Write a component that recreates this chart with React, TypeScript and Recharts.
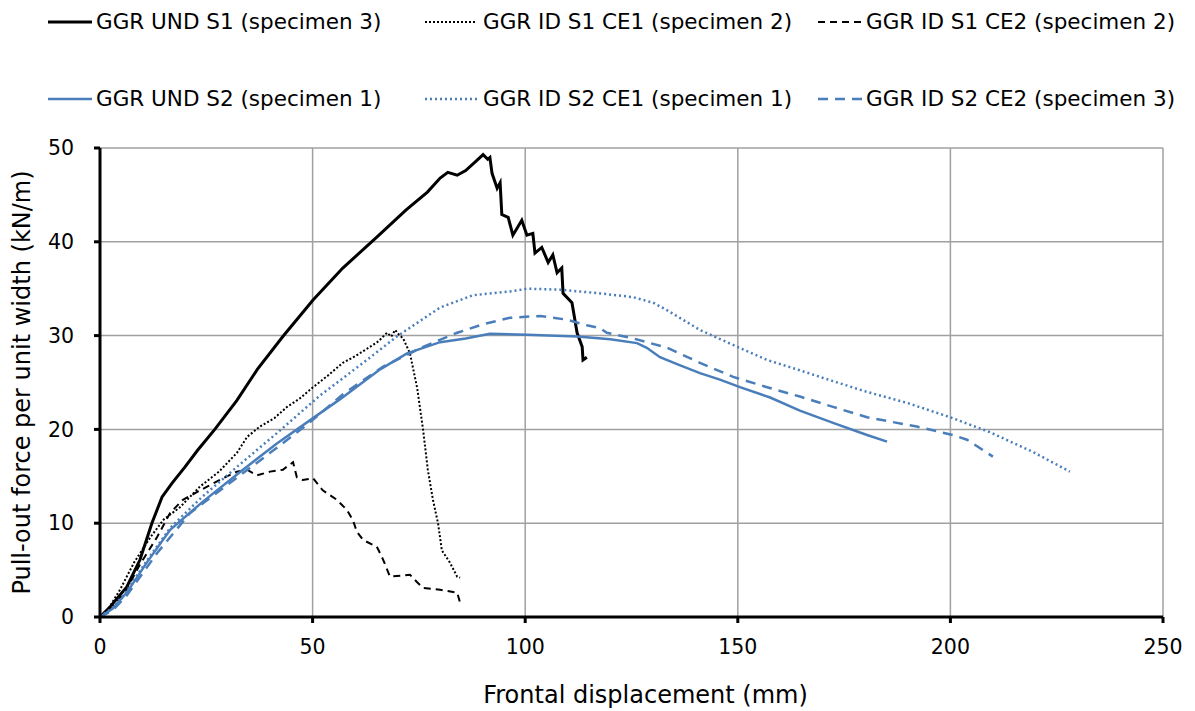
import { LineChart, Line, XAxis, YAxis, CartesianGrid, Label } from "recharts";

const BLUE = "#4a7ebb";
const FONT = "DejaVu Sans";

// GGR UND S1 (specimen 3)
const undS1X = [0, 2.4, 6.3, 9.4, 12.2, 14.6, 17, 20, 23, 27, 32.2, 37, 43, 50.1, 57.1, 65.1, 72, 77, 80, 81.8, 84, 86, 88.7, 90.1, 91.2, 91.7, 92.2, 93.4, 94.1, 94.5, 96, 97.1, 99.2, 100.4, 101.8, 102.3, 103.9, 105.4, 106.5, 107.5, 108.6, 108.9, 111, 112.2, 113.4, 113.6, 114.5];
const undS1Y = [0, 1.1, 3.2, 6.1, 10, 12.8, 14.3, 16.0, 17.8, 20, 23.1, 26.4, 29.9, 33.8, 37.2, 40.5, 43.4, 45.3, 46.8, 47.4, 47.1, 47.6, 48.7, 49.3, 48.8, 49.0, 47.3, 45.7, 46.3, 42.9, 42.6, 40.7, 42.3, 40.7, 40.9, 38.8, 39.4, 37.8, 38.6, 36.7, 37.2, 34.5, 33.5, 30.3, 28.8, 27.4, 27.7];

// GGR ID S1 CE1 (specimen 2)
const idS1Ce1X = [0, 2, 4.7, 8, 12, 15, 18.8, 23.5, 28, 32.2, 34.6, 37.6, 41, 44, 47, 50.1, 53.5, 57.1, 60, 63.5, 65.5, 67.5, 68.5, 69.4, 70.3, 71.3, 72.9, 74.6, 76, 77.1, 78.3, 79.5, 80.4, 82.3, 84, 84.7];
const idS1Ce1Y = [0, 0.9, 2.9, 5.8, 8.6, 10.4, 11.7, 13.9, 15.5, 17.5, 19.2, 20.3, 21.2, 22.4, 23.3, 24.5, 25.7, 27.1, 27.8, 28.8, 29.4, 30.3, 29.9, 30.6, 30.1, 29.7, 28.1, 24.4, 19.9, 15.7, 12.5, 10.0, 7.1, 5.8, 4.3, 4.2];

// GGR ID S1 CE2 (specimen 2)
const idS1Ce2X = [0, 3, 6.3, 9.4, 13.4, 16.5, 19.5, 25.2, 29, 32.2, 34.6, 36.9, 40, 43, 45.4, 46.3, 47.7, 50.1, 52.4, 55.7, 58.1, 59.5, 60.4, 61.9, 65.1, 66.6, 68.2, 72.9, 74.6, 76, 80, 84, 84.7];
const idS1Ce2Y = [0, 1.0, 3.0, 5.6, 8.5, 11.1, 12.5, 13.9, 14.8, 15.5, 15.7, 15.1, 15.5, 15.7, 16.5, 14.9, 14.6, 14.8, 13.5, 12.5, 11.4, 10.3, 9.1, 8.2, 7.5, 6.1, 4.3, 4.5, 3.7, 3.1, 2.9, 2.6, 1.5];

// GGR UND S2 (specimen 1)
const undS2X = [0, 3, 6.3, 11, 16.5, 24.2, 32.2, 41.6, 50.1, 56.4, 65.9, 72.2, 80, 86, 91.7, 100.4, 112.2, 120, 126.3, 128.6, 131.7, 136, 141.1, 145.8, 150.5, 157.6, 164.6, 172.4, 180.4, 185.1];
const undS2Y = [0, 0.9, 2.6, 5.8, 9.3, 12.3, 15.2, 18.5, 21.2, 23.2, 26.4, 28.1, 29.3, 29.7, 30.2, 30.1, 29.9, 29.6, 29.2, 28.7, 27.7, 26.9, 26.0, 25.3, 24.5, 23.4, 22.0, 20.7, 19.4, 18.7];

// GGR ID S2 CE1 (specimen 1)
const idS2Ce1X = [0, 3, 6.3, 11, 16.5, 24, 32.2, 41.6, 51.7, 61.9, 69.8, 80, 87.7, 96.4, 100.4, 108.2, 117.6, 125.4, 130.1, 133.4, 141.1, 148.9, 156.9, 164.6, 172, 180.4, 190, 199.9, 209.3, 219.4, 228.1];
const idS2Ce1Y = [0, 1.0, 2.8, 6.0, 9.5, 12.8, 16.0, 19.6, 23.6, 27.1, 29.9, 33.0, 34.3, 34.7, 35.0, 34.9, 34.5, 34.1, 33.5, 32.7, 30.6, 29.0, 27.4, 26.3, 25.2, 24.0, 22.8, 21.3, 19.7, 17.6, 15.5];

// GGR ID S2 CE2 (specimen 3)
const idS2Ce2X = [0, 3, 6.3, 13.4, 21.2, 30.6, 40, 48.7, 57, 66.6, 76, 84, 90, 96.4, 103.5, 109.8, 114.5, 117.6, 119.2, 125.4, 133.4, 141.1, 148.9, 156.9, 164.6, 172.4, 180.4, 192.1, 200.6, 203.9, 210];
const idS2Ce2Y = [0, 0.7, 2.3, 6.8, 11.1, 14.3, 17.5, 20.5, 23.7, 26.7, 28.8, 30.3, 31.2, 31.9, 32.1, 31.7, 31.1, 30.8, 30.3, 29.7, 28.7, 27.1, 25.6, 24.5, 23.5, 22.4, 21.3, 20.3, 19.4, 18.9, 17.1];

const xTicks = [0, 50, 100, 150, 200, 250];
const yTicks = [0, 10, 20, 30, 40, 50];

const zip = (xs: number[], ys: number[]) => xs.map((x, i) => ({ x, y: ys[i] }));

const series = [
  { name: "GGR UND S1 (specimen 3)", data: zip(undS1X, undS1Y), color: "#000", width: 3, dash: undefined },
  { name: "GGR ID S1 CE1 (specimen 2)", data: zip(idS1Ce1X, idS1Ce1Y), color: "#000", width: 2, dash: "2 2" },
  { name: "GGR ID S1 CE2 (specimen 2)", data: zip(idS1Ce2X, idS1Ce2Y), color: "#000", width: 2, dash: "7 5" },
  { name: "GGR UND S2 (specimen 1)", data: zip(undS2X, undS2Y), color: BLUE, width: 2.5, dash: undefined },
  { name: "GGR ID S2 CE1 (specimen 1)", data: zip(idS2Ce1X, idS2Ce1Y), color: BLUE, width: 2.5, dash: "2 3" },
  { name: "GGR ID S2 CE2 (specimen 3)", data: zip(idS2Ce2X, idS2Ce2Y), color: BLUE, width: 2.5, dash: "10 7" },
];

// legend slots: [sample start, sample end, text start, row center y]
const legendPos = [
  [48, 92, 96, 22],
  [425, 477, 483, 22],
  [818, 862, 866, 22],
  [48, 92, 96, 99],
  [425, 477, 483, 99],
  [818, 862, 866, 99],
];

function ChartLegend() {
  return (
    <>
      {series.map((s, i) => {
        const [x1, x2, tx, cy] = legendPos[i];
        return (
          <div key={s.name}>
            <svg style={{ position: "absolute", left: x1, top: cy - 3 }} width={x2 - x1} height={6}>
              <line x1={0} x2={x2 - x1} y1={3} y2={3} stroke={s.color} strokeWidth={s.width} strokeDasharray={s.dash} />
            </svg>
            <div style={{ position: "absolute", left: tx, top: cy - 14, fontSize: 21.5, lineHeight: "28px", whiteSpace: "nowrap" }}>
              {s.name}
            </div>
          </div>
        );
      })}
    </>
  );
}

export default function App() {
  const tick = { fill: "#000", fontSize: 20.5, fontFamily: FONT };
  const title = { fill: "#000", fontSize: 24, fontFamily: FONT };
  return (
    <div style={{ position: "absolute", left: 0, top: 0, width: 1195, height: 711, background: "#fff", fontFamily: FONT, color: "#000" }}>
      <ChartLegend />
      <LineChart width={1195} height={711} margin={{ top: 148, right: 32, bottom: 0, left: 0 }}>
        <CartesianGrid stroke="#a0a0a0" strokeWidth={1.5} />
        <XAxis
          type="number"
          dataKey="x"
          domain={[0, 250]}
          ticks={xTicks}
          height={94}
          tick={tick}
          tickSize={6}
          tickMargin={16}
          axisLine={{ stroke: "#000", strokeWidth: 3 }}
          tickLine={{ stroke: "#000", strokeWidth: 3 }}
        >
          <Label value="Frontal displacement (mm)" position="insideBottom" offset={8} dx={14} style={{ ...title, textAnchor: "middle" }} />
        </XAxis>
        <YAxis
          type="number"
          dataKey="y"
          domain={[0, 50]}
          ticks={yTicks}
          width={100}
          tick={tick}
          tickSize={6}
          tickMargin={20}
          axisLine={{ stroke: "#000", strokeWidth: 3 }}
          tickLine={{ stroke: "#000", strokeWidth: 3 }}
        >
          <Label value="Pull-out force per unit width (kN/m)" angle={-90} position="insideLeft" offset={21} style={{ ...title, textAnchor: "middle" }} />
        </YAxis>
        {series.map((s) => (
          <Line
            key={s.name}
            data={s.data}
            dataKey="y"
            type="linear"
            stroke={s.color}
            strokeWidth={s.width}
            strokeDasharray={s.dash}
            dot={false}
            activeDot={false}
            isAnimationActive={false}
          />
        ))}
      </LineChart>
    </div>
  );
}
